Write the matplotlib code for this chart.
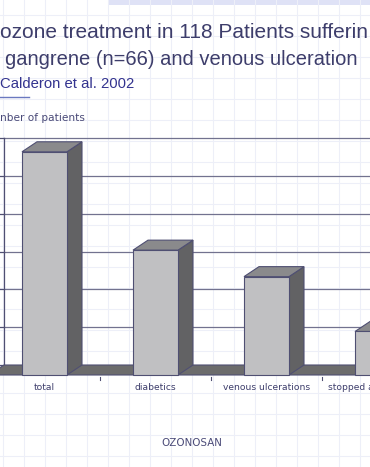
import matplotlib
matplotlib.use("Agg")
import matplotlib.pyplot as plt
from matplotlib.patches import Polygon
from matplotlib.lines import Line2D
from matplotlib.patches import Rectangle

# ---- data ----
categories = ["total", "diabetics", "venous ulcerations", "stopped amputations"]
values = [118, 66, 52, 23]
yticks = [0, 20, 40, 60, 80, 100, 120]

title_line1 = "ozone treatment in 118 Patients sufferin"
title_line2 = "gangrene (n=66) and venous ulceration"
source = "Calderon et al. 2002"
ylabel = "nber of patients"
xlabel = "OZONOSAN"

W, H = 370, 467
fig = plt.figure(figsize=(W / 100, H / 100), dpi=100)
fig.patch.set_facecolor("white")

# background slide grid
bg = fig.add_axes([0, 0, 1, 1])
bg.set_xlim(0, W)
bg.set_ylim(H, 0)
bg.axis("off")
for x in range(3, W, 21):
    bg.add_line(Line2D([x, x], [0, H], color="#edeff8", lw=0.8))
for y in range(15, H, 21):
    bg.add_line(Line2D([0, W], [y, y], color="#edeff8", lw=0.8))
bg.add_patch(Rectangle((108, 0), W - 108, 4.5, color="#dfe2f6", lw=0))

txtc = "#3d3d6b"
fig.text(0.5 / W, 1 - 33 / H, title_line1, fontsize=15.0, color=txtc,
         family="Liberation Sans", va="center", ha="left")
fig.text(5 / W, 1 - 59 / H, title_line2, fontsize=14.5, color=txtc,
         family="Liberation Sans", va="center", ha="left")
fig.text(0 / W, 1 - 84 / H, source, fontsize=10.7, color="#33338f",
         family="Liberation Sans", va="center", ha="left")
bg.add_line(Line2D([0, 29], [97, 97], color="#6a78c0", lw=1.0))
fig.text(0.5 / W, 1 - 118 / H, ylabel, fontsize=7.6, color="#4a4a78",
         family="DejaVu Sans", va="center", ha="left")

# ---- main chart axes ----
pxu = 111.0            # pixels per category
pyu = 227.0 / 120.0    # pixels per value unit
c0 = 44.5              # pixel x of first category centre (front plane)
base = 375.0           # pixel y of front zero
top_px, bot_px = 128.0, 400.0
ax = fig.add_axes([0, 1 - bot_px / H, 1, (bot_px - top_px) / H])
ax.set_xlim(-c0 / pxu, (W - c0) / pxu)
ax.set_ylim((base - bot_px) / pyu, (base - top_px) / pyu)
ax.axis("off")

ddx = 15.0 / pxu        # depth offset in x (categories)
ddy = 10.0 / pyu        # depth offset in y (values)
hw = 22.5 / pxu         # half-width of bar front face
xr = 10.0               # far right (off-screen)
wall_l = -0.5 + ddx
edge = "#4f4f72"

# floor
ax.add_patch(Polygon([(-0.5, 0), (xr, 0), (xr + ddx, ddy), (wall_l, ddy)],
                     closed=True, facecolor="#6c6c6c", edgecolor=edge, lw=0.8, zorder=1))
# gridlines on back wall
for t in yticks[1:]:
    ax.add_line(Line2D([wall_l, xr], [t + ddy, t + ddy], color="#72728f", lw=0.9, zorder=0.5))
# left wall axis line and ticks
ax.add_line(Line2D([wall_l, wall_l], [ddy, yticks[-1] + ddy], color=edge, lw=0.9, zorder=0.6))
for t in yticks:
    ax.add_line(Line2D([wall_l - 4 / pxu, wall_l], [t + ddy, t + ddy], color=edge, lw=0.9, zorder=0.6))

# bars
xs = list(range(len(categories)))
ax.bar(xs, values, width=2 * hw, color="#c0c0c2", edgecolor=edge, lw=0.8, zorder=3)
for x, v in zip(xs, values):
    side = [(x + hw, 0), (x + hw + ddx, ddy), (x + hw + ddx, v + ddy), (x + hw, v)]
    topf = [(x - hw, v), (x + hw, v), (x + hw + ddx, v + ddy), (x - hw + ddx, v + ddy)]
    ax.add_patch(Polygon(side, closed=True, facecolor="#626264", edgecolor=edge, lw=0.8, zorder=2.5))
    ax.add_patch(Polygon(topf, closed=True, facecolor="#8a8a8c", edgecolor=edge, lw=0.8, zorder=2.5))

# category tick marks and labels
for x in xs[:-1]:
    ax.add_line(Line2D([x + 0.5, x + 0.5], [-1.0, -2.8], color=edge, lw=0.8))
for x, lab in zip(xs, categories):
    ax.text(x, -6.5, lab, fontsize=6.6, color="#3d3d6b", ha="center", va="center",
            family="DejaVu Sans", clip_on=True)

fig.text(192 / W, 1 - 443 / H, xlabel, fontsize=7.4, color="#4a4a78",
         family="DejaVu Sans", ha="center", va="center")

fig.savefig("out.png", dpi=100)
